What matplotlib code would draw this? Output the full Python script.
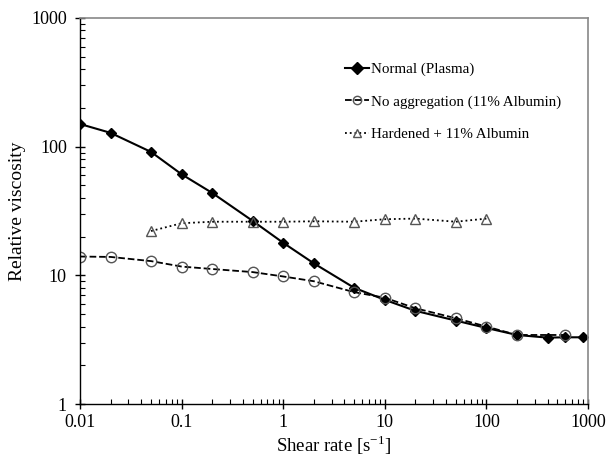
import matplotlib
matplotlib.use("Agg")
import matplotlib.pyplot as plt
from matplotlib.ticker import LogLocator, NullFormatter, FixedLocator, FixedFormatter

plt.rcParams['font.family'] = ['Liberation Serif', 'DejaVu Serif']

normal_x = [0.01, 0.02, 0.05, 0.1, 0.2, 0.5, 1, 2, 5, 10, 20, 50, 100, 200, 400, 600, 900]
normal_y = [150, 128, 91, 61, 43.7, 26.5, 17.9, 12.4, 8.0, 6.45, 5.3, 4.45, 3.9, 3.44, 3.28, 3.3, 3.3]

noagg_x = [0.01, 0.02, 0.05, 0.1, 0.2, 0.5, 1, 2, 5, 10, 20, 50, 100, 200, 600]
noagg_y = [14.0, 13.9, 12.9, 11.7, 11.2, 10.6, 9.8, 9.0, 7.4, 6.7, 5.55, 4.64, 4.0, 3.44, 3.44]

hard_x = [0.05, 0.1, 0.2, 0.5, 1, 2, 5, 10, 20, 50, 100]
hard_y = [22.1, 25.4, 26.1, 26.1, 26.1, 26.3, 26.1, 27.3, 27.6, 26.1, 27.6]

labels = ["Normal (Plasma)", "No aggregation (11% Albumin)", "Hardened + 11% Albumin"]
x_ticks = [0.01, 0.1, 1, 10, 100, 1000]
x_ticklabels = ["0.01", "0.1", "1", "10", "100", "1000"]
y_ticks = [1, 10, 100, 1000]
y_ticklabels = ["1", "10", "100", "1000"]

fig = plt.figure(figsize=(6.08, 4.61), dpi=100)
ax = fig.add_axes([0.1316, 0.1236, 0.8355, 0.8374])

ax.plot(normal_x, normal_y, '-', color='black', lw=1.5, marker='D', ms=5.5,
        mfc='black', mec='black', label=labels[0])
ax.plot(noagg_x, noagg_y, '--', color='black', lw=1.3, marker='o', ms=7.5,
        mfc='none', mec='#555555', mew=1.0, label=labels[1])
ax.plot(hard_x, hard_y, ':', color='black', lw=1.3, marker='^', ms=7.5,
        mfc='none', mec='#555555', mew=1.0, label=labels[2])

ax.set_xscale('log')
ax.set_yscale('log')
ax.set_xlim(0.01, 1000)
ax.set_ylim(1, 1000)

ax.xaxis.set_major_locator(FixedLocator(x_ticks))
ax.xaxis.set_major_formatter(FixedFormatter(x_ticklabels))
ax.yaxis.set_major_locator(FixedLocator(y_ticks))
ax.yaxis.set_major_formatter(FixedFormatter(y_ticklabels))
ax.xaxis.set_minor_locator(LogLocator(base=10, subs=range(2, 10), numticks=20))
ax.yaxis.set_minor_locator(LogLocator(base=10, subs=range(2, 10), numticks=20))
ax.xaxis.set_minor_formatter(NullFormatter())
ax.yaxis.set_minor_formatter(NullFormatter())

ax.tick_params(which='major', direction='inout', length=7, width=1, labelsize=13, pad=6)
ax.tick_params(which='minor', direction='in', length=3.5, width=0.8)
ax.tick_params(axis='x', which='major', pad=4)

for s in ['left', 'bottom']:
    ax.spines[s].set_color('black')
    ax.spines[s].set_linewidth(1.0)
for s in ['top', 'right']:
    ax.spines[s].set_color('#888888')
    ax.spines[s].set_linewidth(1.2)

ax.set_xlabel("Shear rate [s$^{\\mathregular{-1}}$]", fontsize=13.5, labelpad=1)
ax.set_ylabel("Relative viscosity", fontsize=14)
ax.yaxis.set_label_coords(-0.106, 0.5)

leg = ax.legend(loc='upper left', bbox_to_anchor=(0.51, 0.9), frameon=False, fontsize=10.8,
                handlelength=1.6, handletextpad=0.1, labelspacing=1.25, borderaxespad=0)
for h in leg.legend_handles:
    h.set_markersize(6)

fig.savefig('out.png', dpi=100)
